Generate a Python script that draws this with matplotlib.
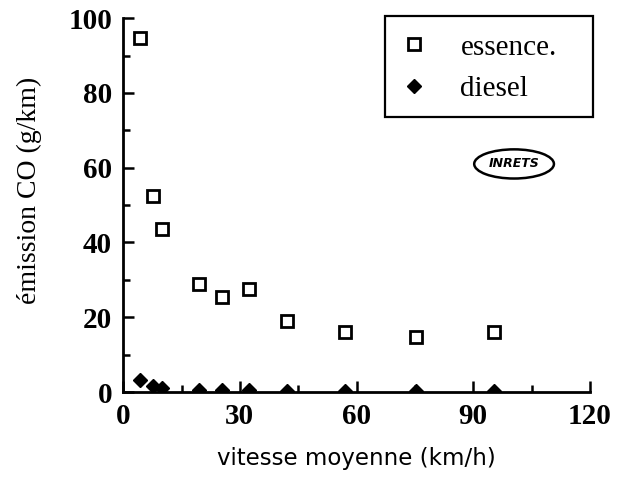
import matplotlib
matplotlib.use('Agg')
import matplotlib.pyplot as plt
from matplotlib.patches import Ellipse, Rectangle
from matplotlib.ticker import MultipleLocator

# vitesse moyenne (km/h) and CO emission (g/km)
speed = [4.4, 7.7, 10.0, 19.5, 25.5, 32.4, 42.2, 57.0, 75.3, 95.4]
essence = [94.7, 52.5, 43.7, 28.8, 25.3, 27.5, 18.9, 16.0, 14.7, 16.0]
diesel = [3.2, 1.6, 1.0, 0.5, 0.5, 0.5, 0.4, 0.4, 0.4, 0.4]
xticks = [0, 30, 60, 90, 120]
yticks = [0, 20, 40, 60, 80, 100]

serif = 'Liberation Serif'

fig = plt.figure(figsize=(6.19, 4.9), dpi=100)
ax = fig.add_axes([0.199, 0.2, 0.754, 0.763])

ax.plot(speed, essence, linestyle='none', marker='s', markersize=9,
        markerfacecolor='white', markeredgecolor='black', markeredgewidth=2,
        label='essence.')
ax.plot(speed, diesel, linestyle='none', marker='D', markersize=7,
        color='black', label='diesel')

ax.set_xlim(0, 120)
ax.set_ylim(0, 100)
ax.set_xticks(xticks)
ax.set_yticks(yticks)
ax.xaxis.set_minor_locator(MultipleLocator(15))
ax.yaxis.set_minor_locator(MultipleLocator(10))
ax.tick_params(which='both', direction='in', width=1.8, pad=8)
ax.tick_params(which='major', length=8)
ax.tick_params(which='minor', length=5)
for lab in ax.get_xticklabels() + ax.get_yticklabels():
    lab.set_fontfamily(serif)
    lab.set_fontweight('bold')
    lab.set_fontsize(21)

for s in ['top', 'right']:
    ax.spines[s].set_visible(False)
for s in ['left', 'bottom']:
    ax.spines[s].set_linewidth(2)

ax.set_xlabel('vitesse moyenne (km/h)', fontsize=16.5, family='DejaVu Sans',
              labelpad=12)
ax.set_ylabel('émission CO (g/km)', fontsize=20, family=serif)
ax.yaxis.set_label_coords(-0.173, 0.54)

# legend (frame drawn separately, the text sits left in the box)
leg = ax.legend(loc='upper left', bbox_to_anchor=(0.592, 0.957),
                frameon=False, handletextpad=1.09, handlelength=1.0,
                borderpad=0.0, labelspacing=0.52, borderaxespad=0.0,
                prop={'family': serif, 'size': 21})
ax.add_patch(Rectangle((0.561, 0.735), 0.445, 0.27, transform=ax.transAxes,
                       fill=False, edgecolor='black', linewidth=1.6,
                       clip_on=False))

# logo
ax.add_patch(Ellipse((100.5, 61), 20.5, 7.8, transform=ax.transData,
                     fill=False, edgecolor='black', linewidth=1.8))
ax.text(100.5, 61, 'INRETS', ha='center', va='center', fontsize=9,
        style='italic', fontweight='bold')

fig.savefig('out.png', dpi=100)
